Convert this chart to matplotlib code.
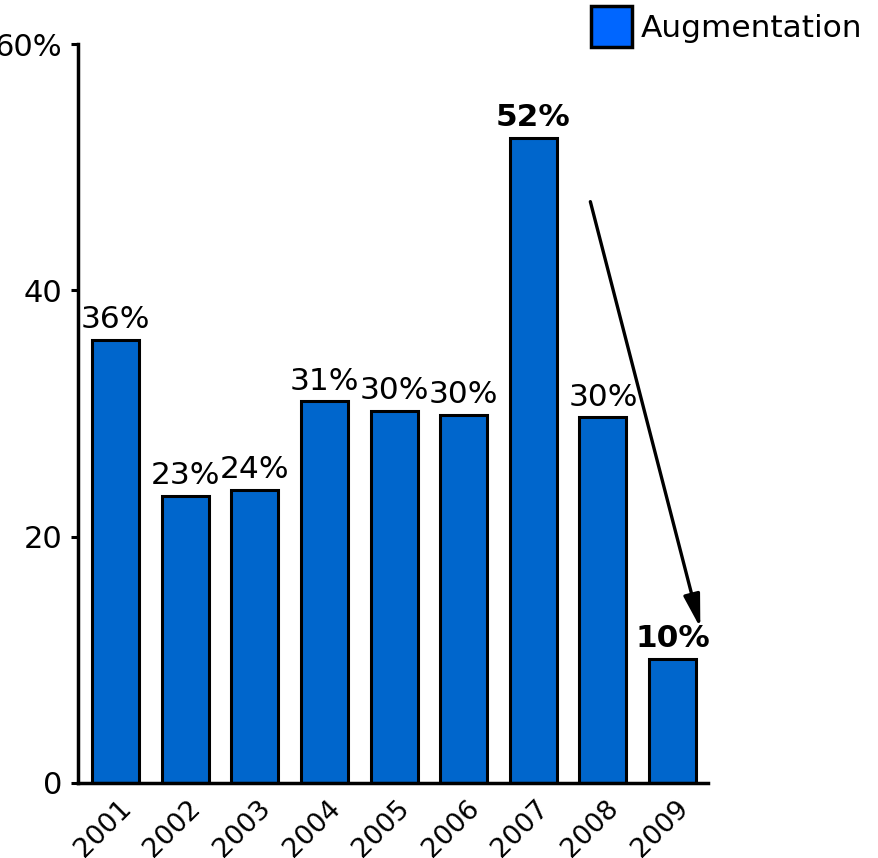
import matplotlib
matplotlib.use("Agg")
import matplotlib.pyplot as plt
from matplotlib.patches import Patch
from matplotlib.transforms import ScaledTranslation

years = ["2001", "2002", "2003", "2004", "2005", "2006", "2007", "2008", "2009"]
values = [36.0, 23.3, 23.8, 31.0, 30.2, 29.9, 52.4, 29.7, 10.1]
bold_years = ["2007", "2009"]
yticks = [0, 20, 40, 60]
ytick_labels = ["0", "20", "40", "60%"]
series_name = "Augmentation"
arrow_from = (6.82, 47.2)
arrow_to = (8.40, 12.6)

plt.rcParams['font.family'] = ['DejaVu Sans']

fig = plt.figure(figsize=(8.79, 8.58), dpi=100)
ax = fig.add_axes([78/879, 1-783/858, (708-78)/879, (783-44)/858])

x = list(range(len(years)))
ax.bar(x, values, width=0.675, color="#0066CC", edgecolor="black", linewidth=2.2, zorder=2)

for xi, v, yr in zip(x, values, years):
    ax.annotate(f"{round(v)}%", (xi, v), xytext=(0, 4), textcoords="offset points",
                ha="center", va="bottom", fontsize=22.5,
                fontweight="bold" if yr in bold_years else "normal")

ax.set_xlim(-0.54, 8.51)
ax.set_ylim(0, 60)
ax.set_yticks(yticks)
ax.set_yticklabels(ytick_labels, fontsize=22)
ax.set_xticks(x)
ax.set_xticklabels([""] * len(years))

# rotated year labels positioned under each bar
lbl_trans = ax.get_xaxis_transform() + ScaledTranslation(21/100, -12/100, fig.dpi_scale_trans)
for xi, yr in zip(x, years):
    ax.text(xi, 0, yr, transform=lbl_trans, rotation=45, ha="right", va="top",
            fontsize=19.5, clip_on=False)

for s in ["top", "right"]:
    ax.spines[s].set_visible(False)
for s in ["left", "bottom"]:
    ax.spines[s].set_linewidth(2.5)
    ax.spines[s].set_color("black")
ax.tick_params(axis="y", length=5, width=2.2, pad=6)
ax.tick_params(axis="x", length=0, pad=0)

ax.annotate("", xy=arrow_to, xytext=arrow_from,
            arrowprops=dict(arrowstyle="-|>,head_length=2.0,head_width=0.5", color="black",
                            lw=2.4, shrinkA=0, shrinkB=0),
            annotation_clip=False)

handle = Patch(facecolor="#0066FF", edgecolor="black", linewidth=2.5, label=series_name)
leg = fig.legend(handles=[handle], loc="upper right", bbox_to_anchor=(862/879, 1 - 6/858),
                 frameon=False, fontsize=22.5, handlelength=1.3, handleheight=1.63,
                 handletextpad=0.28, borderaxespad=0, borderpad=0)

fig.savefig("out.png", dpi=100)
